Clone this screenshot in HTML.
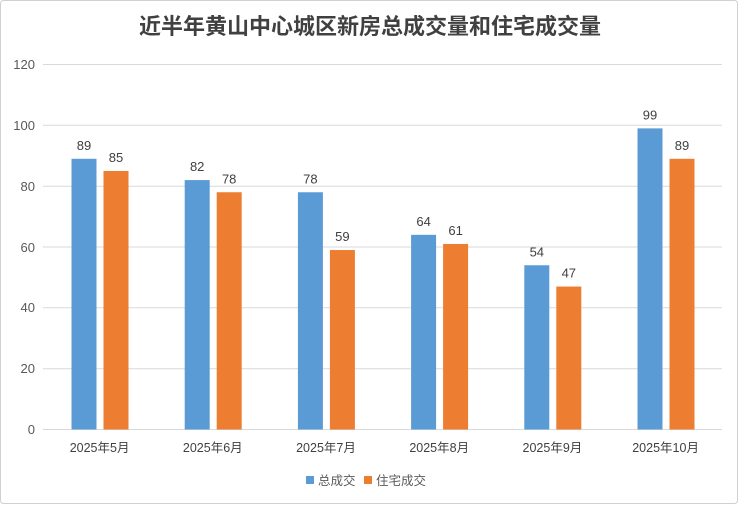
<!DOCTYPE html>
<html><head><meta charset="utf-8"><style>
body{margin:0;background:#fff;}
svg{display:block;font-family:"Liberation Sans","Noto Sans CJK SC",sans-serif;}
</style></head><body>
<svg width="740" height="505" viewBox="0 0 740 505">
<rect x="0.5" y="0.5" width="737" height="503" rx="3" fill="#fff" stroke="#d0d0d0"/>
<text x="370" y="34" text-anchor="middle" font-size="22" font-weight="bold" fill="#404040">近半年黄山中心城区新房总成交量和住宅成交量</text>
<g stroke="#d9d9d9" stroke-width="1">
<line x1="43" x2="722" y1="64.5" y2="64.5"/>
<line x1="43" x2="722" y1="125.3" y2="125.3"/>
<line x1="43" x2="722" y1="186.2" y2="186.2"/>
<line x1="43" x2="722" y1="247" y2="247"/>
<line x1="43" x2="722" y1="307.8" y2="307.8"/>
<line x1="43" x2="722" y1="368.7" y2="368.7"/>
<line x1="43" x2="722" y1="429.5" y2="429.5"/>
</g>
<g font-size="13" fill="#595959" text-anchor="end">
<text x="35" y="69">120</text><text x="35" y="130">100</text><text x="35" y="191">80</text>
<text x="35" y="252">60</text><text x="35" y="312">40</text><text x="35" y="373">20</text><text x="35" y="434">0</text>
</g>
<g id="bars"></g>
<g font-size="13" fill="#404040" text-anchor="middle" id="labels"></g>
<g font-size="12.5" fill="#404040" text-anchor="middle" id="cats"></g>
<rect x="306" y="476" width="8" height="8" fill="#5b9bd5"/>
<text x="318" y="485" font-size="12.5" fill="#595959">总成交</text>
<rect x="364" y="476" width="8" height="8" fill="#ed7d31"/>
<text x="376" y="485" font-size="12.5" fill="#595959">住宅成交</text>
<script>
var a=[89,82,78,64,54,99],b=[85,78,59,61,47,89],m=['5月','6月','7月','8月','9月','10月'];
var ns='http://www.w3.org/2000/svg',g=document.getElementById('bars'),L=document.getElementById('labels'),C=document.getElementById('cats');
function el(p,t,o,txt){var e=document.createElementNS(ns,t);for(var k in o)e.setAttribute(k,o[k]);if(txt)e.textContent=txt;p.appendChild(e);}
for(var i=0;i<6;i++){var x0=43+i*113.2,k=365/120;
var xa=x0+28.5,xb=x0+60.5,ha=a[i]*k,hb=b[i]*k;
el(g,'rect',{x:xa,y:429.5-ha,width:25,height:ha,fill:'#5b9bd5'});
el(g,'rect',{x:xb,y:429.5-hb,width:25,height:hb,fill:'#ed7d31'});
el(L,'text',{x:xa+12.5,y:429.5-ha-9},a[i]);
el(L,'text',{x:xb+12.5,y:429.5-hb-9},b[i]);
el(C,'text',{x:x0+56.6,y:452},'2025年'+m[i]);}
</script>
</svg>
</body></html>
